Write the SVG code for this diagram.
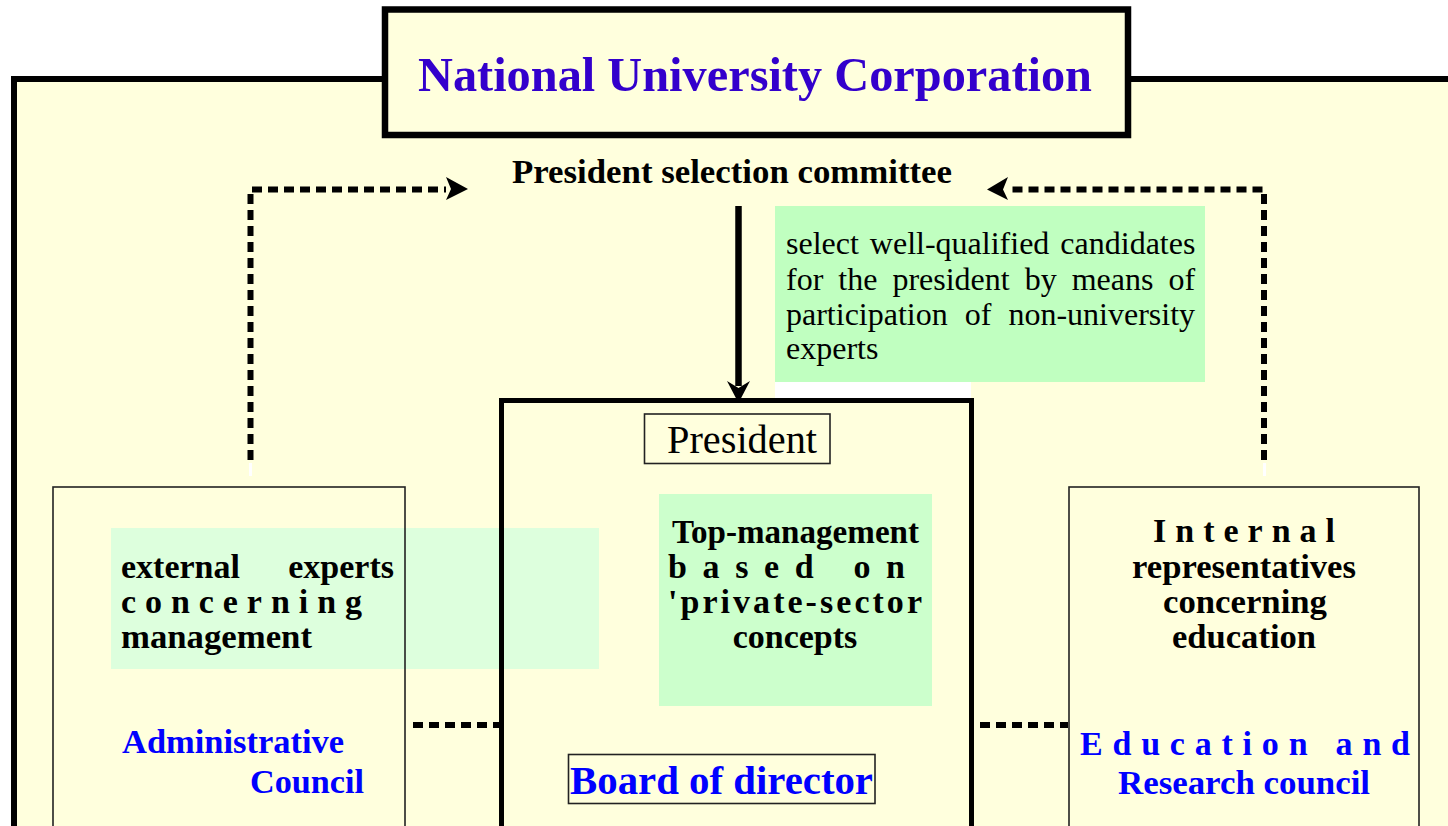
<svg xmlns="http://www.w3.org/2000/svg" width="1448" height="826" viewBox="0 0 1448 826">
<defs>
<style>
.bold{font-family:"Liberation Serif","Times New Roman",serif;font-weight:bold;}
.reg{font-family:"Liberation Serif","Times New Roman",serif;}
.lbl{font-size:34px;fill:#000;}
.blue{font-size:34px;fill:#0000FF;}
.thin{fill:none;stroke:#222;stroke-width:1.6;}
.dash{fill:none;stroke:#000;stroke-width:6;stroke-dasharray:10 6;}
</style>
</defs>
<rect width="1448" height="826" fill="#FFFFFF"/>
<g id="frame">
<rect x="14" y="79" width="1434" height="747" fill="#FFFFDD"/>
<path d="M14,826 V79 H1448" fill="none" stroke="#000" stroke-width="6"/>
</g>
<g id="title">
<rect x="385" y="9.5" width="743" height="125.5" fill="#FFFFDD" stroke="#000" stroke-width="6.5"/>
<text class="bold" x="418" y="91" font-size="49" fill="#3300CC" textLength="674" lengthAdjust="spacingAndGlyphs">National University Corporation</text>
</g>
<g id="selection-committee">
<text class="bold" x="512" y="183" font-size="34" fill="#000" textLength="440" lengthAdjust="spacingAndGlyphs">President selection committee</text>
</g>
<g id="selection-note">
<rect x="775" y="382" width="196" height="16" fill="#FFFFFF"/>
<rect x="775" y="206" width="430" height="176" fill="#C0FFC0"/>
<g class="reg" font-size="32" fill="#000">
<text x="786" y="254" word-spacing="3">select well-qualified candidates</text>
<text x="786" y="290" word-spacing="7">for the president by means of</text>
<text x="786" y="325" word-spacing="9">participation of non-university</text>
<text x="786" y="359">experts</text>
</g>
</g>
<g id="administrative-council">
<rect x="111" y="528" width="488" height="141" fill="#DDFFDD"/>
<rect class="thin" x="53" y="487" width="352" height="345"/>
<text class="bold lbl" x="121" y="578">external</text>
<text class="bold lbl" x="394" y="578" text-anchor="end">experts</text>
<text class="bold lbl" x="121" y="613" textLength="241" lengthAdjust="spacing">concerning</text>
<text class="bold lbl" x="121" y="648" textLength="191" lengthAdjust="spacingAndGlyphs">management</text>
<text class="bold blue" x="122" y="753" textLength="222" lengthAdjust="spacingAndGlyphs">Administrative</text>
<text class="bold blue" x="250" y="793" textLength="114" lengthAdjust="spacingAndGlyphs">Council</text>
</g>
<g id="board">
<rect x="501.5" y="400.5" width="470" height="440" fill="none" stroke="#000" stroke-width="5"/>
<rect x="659" y="494" width="273" height="212" fill="#CCFFCC"/>
<text class="bold lbl" x="672" y="543" textLength="247" lengthAdjust="spacingAndGlyphs">Top-management</text>
<text class="bold lbl" x="668" y="578" textLength="237" lengthAdjust="spacing">based on</text>
<text class="bold lbl" x="668" y="613" textLength="254" lengthAdjust="spacing">'private-sector</text>
<text class="bold lbl" x="795" y="648" text-anchor="middle">concepts</text>
</g>
<g id="president">
<rect class="thin" x="644.5" y="414" width="185.5" height="49.5"/>
<text class="reg" x="667" y="453" font-size="40" fill="#000" textLength="150" lengthAdjust="spacingAndGlyphs">President</text>
</g>
<g id="board-of-director">
<rect class="thin" x="568.5" y="754.5" width="306.5" height="49"/>
<text class="bold" x="570" y="794" font-size="40" fill="#0000FF" textLength="303" lengthAdjust="spacingAndGlyphs">Board of director</text>
</g>
<g id="education-research-council">
<rect class="thin" x="1069" y="487" width="350" height="345"/>
<text class="bold lbl" x="1153" y="542" textLength="182" lengthAdjust="spacing">Internal</text>
<text class="bold lbl" x="1132" y="578" textLength="224" lengthAdjust="spacingAndGlyphs">representatives</text>
<text class="bold lbl" x="1163" y="613" textLength="164" lengthAdjust="spacingAndGlyphs">concerning</text>
<text class="bold lbl" x="1172" y="648" textLength="144" lengthAdjust="spacingAndGlyphs">education</text>
<text class="bold blue" x="1080" y="755" textLength="330" lengthAdjust="spacing">Education and</text>
<text class="bold blue" x="1118" y="794" textLength="252" lengthAdjust="spacingAndGlyphs">Research council</text>
</g>
<g id="connectors">
<path class="dash" d="M250.5,460 V189.5 H446"/>
<rect x="249" y="463" width="3" height="13" fill="#FFFFFF"/>
<polygon points="446,177 468,189 446,200 451,189" fill="#000"/>
<path class="dash" d="M1264,460 V189.5 H1008"/>
<rect x="1263" y="463" width="3" height="13" fill="#FFFFFF"/>
<polygon points="1008,177 987,189.5 1008,200 1003,189.5" fill="#000"/>
<line x1="738.5" y1="206" x2="738.5" y2="386" stroke="#000" stroke-width="6.5"/>
<polygon points="727,381 738.5,403 750,381 738.5,388" fill="#000"/>
<path class="dash" d="M413,725 H500"/>
<path class="dash" d="M980,725 H1068"/>
</g>
</svg>
